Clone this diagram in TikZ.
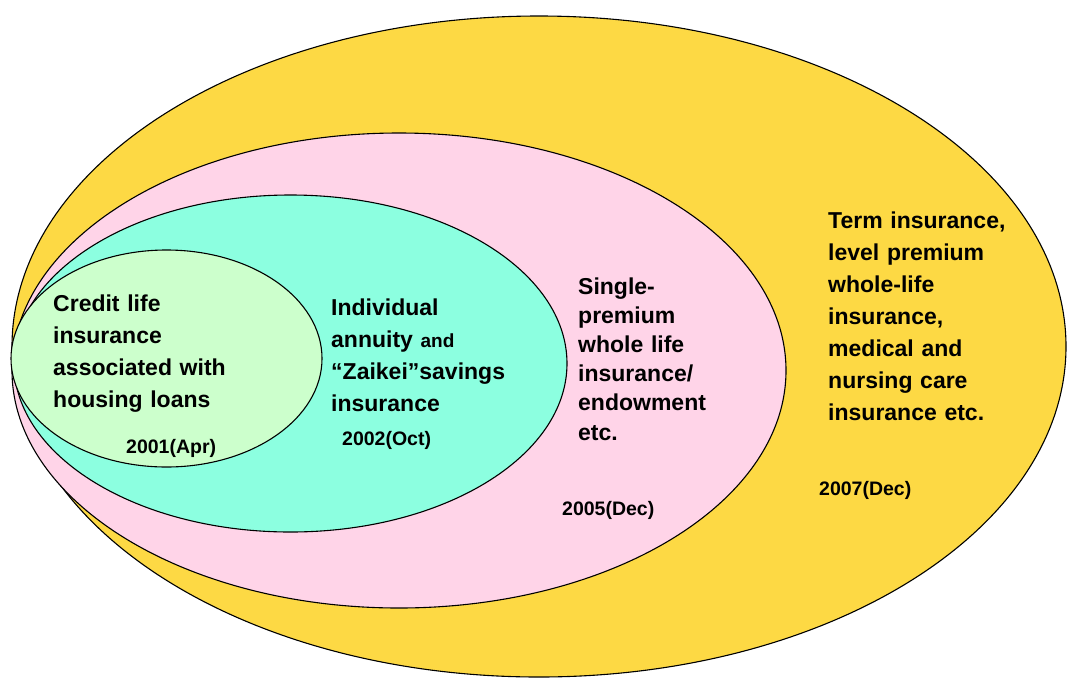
\documentclass[tikz,border=0pt]{standalone}
\usepackage{fontspec}
\setmainfont{Liberation Sans}
\definecolor{ylw}{HTML}{FDD944}
\definecolor{pnk}{HTML}{FFD4E8}
\definecolor{tql}{HTML}{8CFFE0}
\definecolor{lgr}{HTML}{CCFFCC}
\begin{document}
\begin{tikzpicture}[x=1pt,y=-1pt,
  ring/.style={draw=black,line width=1.1pt},
  txt/.style={anchor=base west,inner sep=0pt,align=left,text width=260pt,
    font=\bfseries\fontsize{23}{32}\selectfont},
  txtb/.style={txt,font=\bfseries\fontsize{23}{29.2}\selectfont},
  yr/.style={anchor=base west,inner sep=0pt,font=\bfseries\fontsize{19.5}{22}\selectfont}]
\useasboundingbox (0,0) rectangle (1067,678);
\filldraw[ring,fill=ylw] (539,346.5) ellipse [x radius=527pt,y radius=330.5pt];
\filldraw[ring,fill=pnk] (399,370.5) ellipse [x radius=387pt,y radius=237.5pt];
\filldraw[ring,fill=tql] (290.5,363.5) ellipse [x radius=276.5pt,y radius=168.5pt];
\filldraw[ring,fill=lgr] (166.5,358.5) ellipse [x radius=155.5pt,y radius=108.5pt];
\node[txt] (credit) at (53,311) {Credit life\\insurance\\associated with\\housing loans};
\node[yr] (y2001) at (126,453) {2001(Apr)};
\node[txt] (annuity) at (331,315) {Individual\\annuity {\fontsize{19}{32}\selectfont and}\\“Zaikei”savings\\insurance};
\node[yr] (y2002) at (342,445) {2002(Oct)};
\node[txtb] (single) at (578,294) {Single-\\premium\\whole life\\insurance/\\endowment\\etc.};
\node[yr] (y2005) at (562,515) {2005(Dec)};
\node[txt] (term) at (828,228) {Term insurance,\\level premium\\whole-life\\insurance,\\medical and\\nursing care\\insurance etc.};
\node[yr] (y2007) at (819,495) {2007(Dec)};
\end{tikzpicture}
\end{document}
